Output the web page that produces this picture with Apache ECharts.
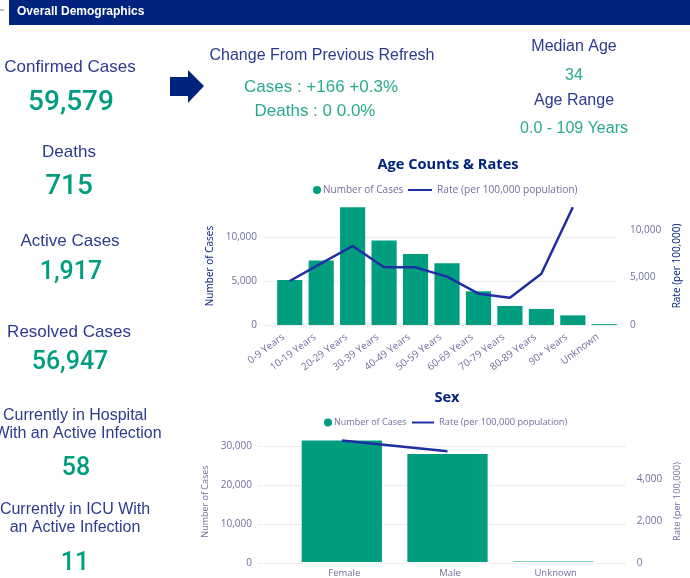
<!DOCTYPE html>
<html>
<head>
  <meta charset="utf-8">
  <title>Overall Demographics</title>
  <style>
    html, body { margin: 0; padding: 0; background: #fff; }
    #map { width: 690px; height: 578px; }
  </style>
</head>
<body>
  <div id="map"></div>
  <script src="https://cdn.jsdelivr.net/npm/echarts@6/dist/echarts.min.js"></script>
  <script>
    // chart data
    var ageCategories = ['0-9 Years', '10-19 Years', '20-29 Years', '30-39 Years', '40-49 Years', '50-59 Years',
      '60-69 Years', '70-79 Years', '80-89 Years', '90+ Years', 'Unknown'];
    var ageCases = [5130, 7340, 13420, 9620, 8100, 7030, 3840, 2170, 1825, 1100, 100];
    var ageRates = [4630, 6490, 8316, 6070, 6070, 5090, 3300, 2880, 5400, 12390, null];
    var sexCategories = ['Female', 'Male', 'Unknown'];
    var sexCases = [31550, 28020, 150];
    var sexRates = [5841, 5333, null];

    var seriesCases = 'Number of Cases';
    var seriesRate = 'Rate (per 100,000 population)';

    var navy = '#00237d';
    var textBlue = '#2c3a8f';
    var green = '#009e7e';
    var softGreen = '#2aa98c';
    var lineBlue = '#1f2ea3';
    var greyBlue = '#6f6f9f';
    var sans = '"Liberation Sans", Arial, sans-serif';
    var segoe = '"Open Sans", sans-serif';
    var digits = 'Roboto, sans-serif';

    // text at x, y (centre) on the canvas
    function label(str, x, y, size, color, family, weight) {
      return {
        type: 'text', x: x, y: y, silent: true,
        style: {
          text: str, fill: color, fontSize: size, fontFamily: family || sans, fontWeight: weight || 'normal',
          align: 'center', verticalAlign: 'middle'
        }
      };
    }

    var dots = { lineStyle: { color: '#dedede', type: 'dotted', width: 1 }, showMaxLine: false };

    function valueAxis(gridIndex, position, max, interval, opts) {
      return Object.assign({
        type: 'value', gridIndex: gridIndex, position: position, min: 0, max: max, interval: interval,
        axisLine: { show: false }, axisTick: { show: false }, splitLine: { show: false }
      }, opts);
    }
    function hiddenX(gridIndex) {
      return { type: 'category', gridIndex: gridIndex, data: [''], show: false };
    }
    function thousands(v) {
      return v.toLocaleString('en-US');
    }
    function casesLegend(left, top, size) {
      return {
        data: [seriesCases], left: left, top: top, icon: 'circle', itemWidth: 8, itemHeight: 8,
        textStyle: { color: greyBlue, fontSize: size, fontFamily: segoe, padding: [0, 0, 0, -3] }
      };
    }
    function rateLegend(left, top, width, size) {
      return {
        data: [seriesRate], left: left, top: top, icon: 'rect', itemWidth: width, itemHeight: 2,
        textStyle: { color: greyBlue, fontSize: size, fontFamily: segoe }
      };
    }

    var option = {
      animation: false,
      backgroundColor: '#fff',
      textStyle: { fontFamily: segoe },
      grid: [
        { left: 263, right: 63, top: 207, height: 118 },
        { left: 274, right: 70, top: 207, height: 118 },
        { left: 258, right: 53, top: 440, height: 123 },
        { left: 289, right: 84, top: 440, height: 123 }
      ],
      legend: [
        casesLegend(308, 180, 10),
        rateLegend(403, 180, 24, 10.2),
        casesLegend(319, 413, 9),
        rateLegend(407, 413, 22, 9.3)
      ],
      xAxis: [
        hiddenX(0),
        {
          type: 'category', gridIndex: 1, data: ageCategories,
          axisLine: { show: false }, axisTick: { show: false },
          axisLabel: { interval: 0, rotate: 37, margin: 6, padding: [0, 8, 0, 0], color: greyBlue, fontSize: 10, fontFamily: segoe }
        },
        hiddenX(2),
        {
          type: 'category', gridIndex: 3, data: sexCategories,
          axisLine: { show: false }, axisTick: { show: false },
          axisLabel: { interval: 0, margin: 6, padding: [0, 0, 0, 5], color: greyBlue, fontSize: 9.5, fontFamily: segoe }
        }
      ],
      yAxis: [
        // first chart, visible axes with the long gridlines
        valueAxis(0, 'left', 13450, 5000, {
          name: 'Number of Cases', nameLocation: 'middle', nameGap: 46,
          nameTextStyle: { color: navy, fontSize: 10, fontFamily: segoe },
          axisLabel: { margin: 6, color: greyBlue, fontSize: 10, showMaxLabel: false, fontFamily: segoe, formatter: thousands },
          splitLine: dots
        }),
        valueAxis(0, 'right', 12420, 5000, {
          name: 'Rate (per 100,000)', nameLocation: 'middle', nameGap: 49,
          nameTextStyle: { color: navy, fontSize: 10, fontFamily: segoe },
          axisLabel: { margin: 12, color: greyBlue, fontSize: 10, showMaxLabel: false, fontFamily: segoe, formatter: thousands }
        }),
        // first chart, scales for the marks
        valueAxis(1, 'left', 13450, 5000, { show: false }),
        valueAxis(1, 'right', 12420, 5000, { show: false }),
        // second chart
        valueAxis(2, 'left', 31680, 10000, {
          name: 'Number of Cases', nameLocation: 'middle', nameGap: 35,
          nameTextStyle: { color: greyBlue, fontSize: 9, fontFamily: segoe },
          axisLabel: { margin: 6, color: greyBlue, fontSize: 10, showMaxLabel: false, fontFamily: segoe, formatter: thousands },
          splitLine: dots
        }),
        valueAxis(2, 'right', 5870, 2000, {
          name: 'Rate (per 100,000)', nameLocation: 'middle', nameGap: 39,
          nameTextStyle: { color: greyBlue, fontSize: 9.3, fontFamily: segoe },
          axisLabel: { margin: 11, color: greyBlue, fontSize: 10, showMaxLabel: false, fontFamily: segoe, formatter: thousands }
        }),
        valueAxis(3, 'left', 31680, 10000, { show: false }),
        valueAxis(3, 'right', 5870, 2000, { show: false })
      ],
      series: [
        {
          name: seriesCases, type: 'bar', xAxisIndex: 1, yAxisIndex: 2, data: ageCases, barWidth: '80%',
          itemStyle: { color: green }
        },
        {
          name: seriesRate, type: 'line', xAxisIndex: 1, yAxisIndex: 3, data: ageRates, symbol: 'none',
          itemStyle: { color: lineBlue }, lineStyle: { color: lineBlue, width: 2.5 }
        },
        {
          name: seriesCases, type: 'bar', xAxisIndex: 3, yAxisIndex: 6, data: sexCases, barWidth: '76%',
          itemStyle: { color: green }
        },
        {
          name: seriesRate, type: 'line', xAxisIndex: 3, yAxisIndex: 7, data: sexRates, symbol: 'none',
          itemStyle: { color: lineBlue }, lineStyle: { color: lineBlue, width: 2.5 }
        }
      ],
      graphic: [
        // header bar
        { type: 'rect', shape: { x: 9, y: 0, width: 681, height: 25 }, style: { fill: navy }, silent: true },
        { type: 'rect', shape: { x: 0, y: 9, width: 4, height: 2 }, style: { fill: '#b9c0cf' }, silent: true },
        {
          type: 'text', x: 17, y: 12, silent: true,
          style: { text: 'Overall Demographics', fill: '#fff', fontSize: 12, fontWeight: 'bold', fontFamily: sans, verticalAlign: 'middle' }
        },
        // arrow
        {
          type: 'polygon', silent: true, style: { fill: navy },
          shape: { points: [[170, 77], [188, 77], [188, 70], [204, 86], [188, 103], [188, 96], [170, 96]] }
        },
        // left column
        label('Confirmed Cases', 70, 67, 17, textBlue),
        label('59,579', 71, 103, 28, green, digits, 500),
        label('Deaths', 69, 152, 17, textBlue),
        label('715', 69, 187, 28, green, digits, 500),
        label('Active Cases', 70, 241, 17, textBlue),
        label('1,917', 71, 273, 25, green, digits, 500),
        label('Resolved Cases', 69, 332, 17, textBlue),
        label('56,947', 70, 363, 25, green, digits, 500),
        label('Currently in Hospital', 75, 416, 16, textBlue),
        label('With an Active Infection', 78, 434, 16, textBlue),
        label('58', 76, 469, 25, green, digits, 500),
        label('Currently in ICU With', 75, 510, 16, textBlue),
        label('an Active Infection', 75, 528, 16, textBlue),
        label('11', 75, 564, 25, green, digits, 500),
        // top block
        label('Change From Previous Refresh', 322, 56, 16, textBlue),
        label('Cases : +166 +0.3%', 321, 87, 17, softGreen),
        label('Deaths : 0 0.0%', 315, 111, 17, softGreen),
        label('Median Age', 574, 47, 16, textBlue),
        label('34', 574, 76, 16, softGreen),
        label('Age Range', 574, 101, 16, textBlue),
        label('0.0 - 109 Years', 574, 129, 16, softGreen),
        // chart titles
        label('Age Counts & Rates', 448, 165, 14.6, navy, segoe, 'bold'),
        label('Sex', 447, 398, 14.6, navy, segoe, 'bold')
      ]
    };

    var myChart = echarts.init(document.getElementById('map'));
    myChart.setOption(option);
  </script>
</body>
</html>
